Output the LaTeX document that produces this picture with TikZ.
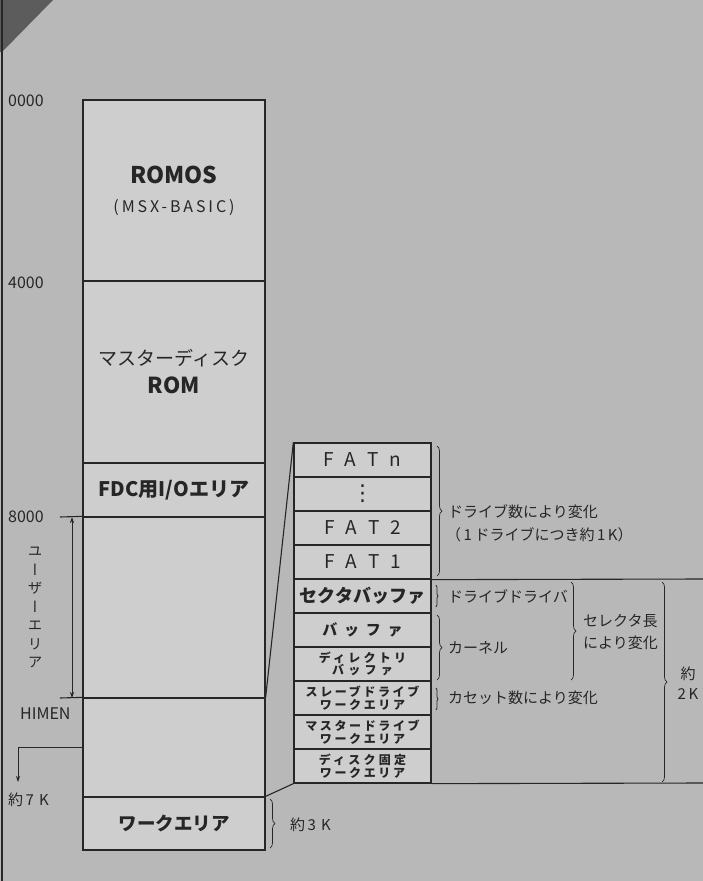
\documentclass[tikz,border=0pt]{standalone}
\usepackage{fontspec}
\setmainfont{Noto Sans CJK JP}
\newfontfamily\jpv[RawFeature=+vert]{Noto Sans CJK JP}
\newfontfamily\djv{DejaVu Sans}
\usetikzlibrary{decorations.pathreplacing,arrows.meta}
\definecolor{paper}{RGB}{184,184,184}
\definecolor{boxfill}{RGB}{206,206,206}
\definecolor{ink}{RGB}{38,38,38}
\definecolor{corner}{RGB}{92,92,92}
\newcommand\fsz[2]{\fontsize{#1}{#2}\selectfont}
\newcommand\lsp[2]{{\addfontfeature{LetterSpace=#1}#2}}
\tikzset{
  mainbox/.style={draw=ink, line width=1.3, fill=boxfill, minimum width=182, inner sep=0, align=center, text=ink},
  rowbox/.style={draw=ink, line width=1.3, fill=boxfill, minimum width=137, minimum height=34, inner sep=0, align=center, text=ink},
  smalltwo/.style={font=\bfseries\fsz{12}{12.5}},
  lbl/.style={anchor=west, inner sep=0, text=ink, font=\fsz{15}{18}},
  addr/.style={anchor=west, inner sep=0, text=ink, font=\fsz{16}{18}},
  conn/.style={draw=ink, line width=1.1},
  brc/.style={draw=ink, line width=0.7, decorate, decoration={brace, amplitude=#1}},
  brc/.default=5
}
\begin{document}
\begin{tikzpicture}[x=1pt,y=-1pt]
\useasboundingbox (0,0) rectangle (703,881);
\fill[paper] (0,0) rectangle (703,881);
\fill[corner] (0,0) -- (53,0) -- (2,52) -- (0,52) -- cycle;
\draw[ink, line width=1.2] (2,0) -- (2,881);

% main column
\node[mainbox, minimum height=181, font=\fsz{16}{29}] (romos) at (174,190.5)
  {{\bfseries\fsz{23}{29}ROMOS}\\{\fsz{16}{29}\lsp{18}{(MSX-BASIC)}}};
\node[mainbox, minimum height=182, font=\fsz{19}{28}] (mrom) at (174,372)
  {{\fsz{19}{28}マスターディスク}\\{\bfseries\fsz{22}{28}ROM}};
\node[mainbox, minimum height=54] (fdc) at (174,490)
  {\bfseries\fsz{20}{22}FDC用I/Oエリア};
\node[mainbox, minimum height=181] (user) at (174,607.5) {};
\node[mainbox, minimum height=99] (lower) at (174,747.5) {};
\node[mainbox, minimum height=53] (work) at (174,823.5)
  {\bfseries\fsz{18.5}{20}ワークエリア};

% addresses
\node[addr] (a0) at (8,101) {0000};
\node[addr] (a4) at (8,283) {4000};
\node[addr] (a8) at (8,517) {8000};
\node[addr] (hm) at (20,714) {HIMEN};
\node[lbl] (k7) at (8,800) {約\,7\,\,K};

\coordinate (t8) at (60,517);
\coordinate (th) at (60,698);
\draw[conn] (t8) -- (user.north west);
\draw[conn] (th) -- (lower.north west);
\coordinate (ua1) at (72,517);
\coordinate (ua2) at (72,698);
\draw[draw=ink, line width=0.8, {Stealth[length=6pt,width=4pt]}-{Stealth[length=6pt,width=4pt]}] (ua1) -- (ua2);
\node[inner sep=0, text=ink, align=center, font=\jpv\fsz{14.5}{18.5}] (uarea) at (35,607.5)
  {ユ\\ー\\ザ\\ー\\エ\\リ\\ア};
\coordinate (k7a) at (18,782);
\draw[draw=ink, line width=0.9, -{Stealth[length=6pt,width=4pt]}] (lower.west) -| (k7a);

% right column
\node[rowbox] (r1) at (362.5,460) {\fsz{19}{20}F\hskip11pt A\hskip11pt T\hskip11pt n};
\node[rowbox] (r2) at (362.5,494) {\djv\fsz{22}{24}⋮};
\node[rowbox] (r3) at (362.5,528) {\fsz{19}{20}F\hskip11pt A\hskip11pt T\hskip11pt 2};
\node[rowbox] (r4) at (362.5,562) {\fsz{19}{20}F\hskip11pt A\hskip11pt T\hskip11pt 1};
\node[rowbox] (r5) at (362.5,596) {\bfseries\fsz{18}{20}セクタバッファ};
\node[rowbox] (r6) at (362.5,630) {\bfseries\fsz{15}{18}\lsp{45}{バッファ}};
\node[rowbox, smalltwo] (r7) at (362.5,664) {\lsp{27}{ディレクトリ}\\\lsp{35}{バッファ}};
\node[rowbox, smalltwo] (r8) at (362.5,698) {\lsp{22}{スレーブドライブ}\\\lsp{22}{ワークエリア}};
\node[rowbox, smalltwo] (r9) at (362.5,732) {\lsp{22}{マスタードライブ}\\\lsp{22}{ワークエリア}};
\node[rowbox, smalltwo] (r10) at (362.5,766) {\lsp{27}{ディスク固定}\\\lsp{22}{ワークエリア}};

% connectors between columns
\draw[conn] (r1.north west) -- (lower.north east);
\draw[conn] (work.north east) -- (r10.south west);
\coordinate (e1) at (703,579);
\coordinate (e2) at (703,783);
\draw[conn] (r4.south east) -- (e1);
\draw[conn] (r10.south east) -- (e2);

% braces and notes
\coordinate (b1t) at (437,446); \coordinate (b1b) at (437,576);
\draw[brc] (b1t) -- (b1b);
\node[lbl] (n1) at (448,512) {ドライブ数により変化};
\node[lbl] (n2) at (446,535) {（\,1\,ドライブにつき約\,1\,K）};

\coordinate (b2t) at (436,585); \coordinate (b2b) at (436,607);
\draw[brc=2] (b2t) -- (b2b);
\node[lbl] (n3) at (448,596) {ドライブドライバ};

\coordinate (b3t) at (437,615); \coordinate (b3b) at (437,680);
\draw[brc] (b3t) -- (b3b);
\node[lbl] (n4) at (448,648) {カーネル};

\coordinate (b4t) at (436,688); \coordinate (b4b) at (436,710);
\draw[brc=2] (b4t) -- (b4b);
\node[lbl] (n5) at (448,698) {カセット数により変化};

\coordinate (b5t) at (571,582); \coordinate (b5b) at (571,680);
\draw[brc] (b5t) -- (b5b);
\node[lbl, align=left, font=\fsz{15}{22}] (n6) at (583,632) {セレクタ長\\により変化};

\coordinate (b6t) at (662,582); \coordinate (b6b) at (662,782);
\draw[brc] (b6t) -- (b6b);
\node[inner sep=0, text=ink, align=center, font=\fsz{15}{20}] (n7) at (688,683) {約\\2\,K};

\coordinate (b7t) at (270,799); \coordinate (b7b) at (270,848);
\draw[brc] (b7t) -- (b7b);
\node[lbl] (n8) at (290,825) {約\,3\,\,K};
\end{tikzpicture}
\end{document}
